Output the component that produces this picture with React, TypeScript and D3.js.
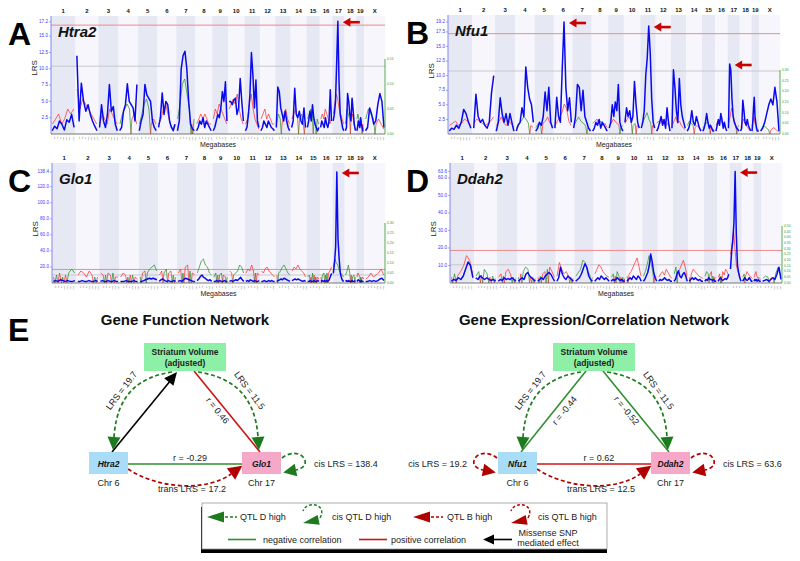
import React from "react";
import * as d3 from "d3";

const FONT = "'Liberation Sans', Arial, Helvetica, sans-serif";

// ---- genome layout -------------------------------------------------------
const chromosomes = ["1", "2", "3", "4", "5", "6", "7", "8", "9", "10", "11", "12", "13", "14", "15", "16", "17", "18", "19", "X"];
const chromLengths = [197.2, 181.7, 159.6, 155.6, 152.5, 149.5, 152.5, 131.7, 124.1, 130.0, 121.8, 121.3, 120.3, 125.2, 103.5, 98.3, 95.3, 90.8, 61.3, 166.7];

// ---- A: Htra2 ------------------------------------------------------------
const htra2Lrs = [
  [0.5, 1.2, 0.8, 2.0, 1.5, 0.6, 2.2, 1.8, 3.0, 1.0],
  [12.0, 2.0, 7.8, 5.0, 3.5, 4.5, 3.0, 2.0, 1.2, 0.5],
  [1.0, 4.5, 2.0, 1.0, 3.0, 7.6, 3.5, 4.2, 1.5, 0.5],
  [0.5, 1.0, 3.5, 4.5, 7.7, 5.0, 4.5, 4.0, 2.0, 7.6],
  [0.5, 2.0, 3.0, 7.6, 6.0, 5.5, 5.0, 2.0, 1.0, 0.5],
  [1.0, 2.5, 6.3, 3.0, 5.0, 4.5, 2.0, 1.0, 0.5, 1.5],
  [0.5, 2.0, 10.0, 12.0, 12.7, 10.0, 5.0, 1.5, 0.8, 0.5],
  [0.5, 1.0, 2.0, 1.5, 2.5, 1.0, 2.0, 1.5, 1.0, 0.5],
  [0.5, 1.0, 2.0, 3.0, 2.5, 4.0, 6.5, 5.0, 8.0, 2.0],
  [5.0, 5.0, 4.5, 5.2, 5.5, 3.0, 4.0, 8.5, 5.0, 2.0],
  [0.5, 1.0, 3.0, 6.0, 12.5, 9.0, 4.0, 8.3, 2.0, 1.0],
  [0.5, 1.0, 2.0, 1.5, 1.0, 2.0, 1.5, 1.0, 0.8, 0.5],
  [1.0, 7.2, 6.5, 4.0, 3.0, 2.0, 3.5, 2.0, 1.0, 0.5],
  [1.0, 2.0, 7.0, 3.0, 2.5, 3.5, 2.0, 1.5, 4.0, 1.0],
  [1.0, 2.0, 3.5, 2.0, 4.5, 2.5, 1.5, 1.0, 0.5, 1.0],
  [1.0, 2.0, 1.5, 1.0, 2.5, 1.5, 1.0, 2.0, 6.8, 2.0],
  [2.0, 3.0, 5.0, 11.0, 17.3, 8.0, 3.0, 2.0, 1.0, 0.5],
  [0.5, 1.0, 6.2, 5.0, 3.0, 2.0, 5.5, 3.5, 1.5, 0.5],
  [0.5, 1.0, 2.0, 1.5, 1.0, 2.5, 1.5, 1.0, 0.5, 0.5],
  [0.5, 1.0, 4.0, 3.0, 1.5, 2.0, 4.5, 6.2, 5.0, 1.0],
];
const htra2Additive = [
  [0.02, 0.03, 0.04, 0.02, 0.03, 0.05, 0.04, 0.05],
  [0.09, 0.05, 0.07, 0.06, 0.05, 0.04, 0.03, 0.02],
  [0.02, 0.04, 0.03, 0.02, 0.05, 0.04, 0.03, 0.02],
  [-0.02, -0.04, -0.05, -0.06, -0.05, 0.03, 0.04, 0.02],
  [-0.02, -0.04, -0.06, -0.07, -0.05, 0.02, 0.03, 0.02],
  [0.02, 0.03, 0.05, 0.06, 0.04, 0.02, 0.01, 0.02],
  [-0.03, -0.06, -0.1, -0.11, -0.08, -0.05, 0.02, -0.03],
  [0.02, 0.03, 0.04, 0.03, 0.04, 0.03, 0.02, 0.02],
  [0.03, 0.05, 0.04, 0.06, 0.05, 0.04, 0.03, 0.02],
  [0.05, 0.06, 0.07, 0.06, 0.08, 0.05, 0.03, 0.02],
  [0.02, 0.03, 0.06, 0.08, 0.05, 0.03, 0.02, 0.01],
  [0.03, 0.04, 0.05, 0.03, 0.04, 0.03, 0.02, 0.02],
  [-0.02, -0.04, -0.03, 0.02, 0.04, 0.05, 0.03, 0.02],
  [0.03, 0.04, 0.05, 0.03, -0.03, -0.04, -0.02, 0.02],
  [-0.03, -0.04, -0.05, -0.04, 0.03, 0.02, -0.03, -0.02],
  [0.03, 0.04, 0.03, 0.05, 0.04, 0.03, 0.02, 0.03],
  [0.04, 0.06, 0.08, 0.07, 0.05, 0.04, 0.03, 0.02],
  [-0.02, -0.05, -0.04, -0.03, 0.03, 0.04, 0.02, 0.01],
  [-0.03, -0.04, -0.03, -0.02, -0.03, -0.02, 0.02, 0.01],
  [-0.03, -0.05, -0.04, -0.03, 0.02, 0.03, 0.02, 0.01],
];
const htra2Ticks = [2.5, 5, 7.5, 10, 12.5, 15, 17.2];
const htra2AddTicks = [0, 0.05, 0.1, 0.15];
const htra2Thresholds = [16.7, 10.4];
const htra2Peaks = [[16, 4]];

// ---- B: Nfu1 -------------------------------------------------------------
const nfu1Lrs = [
  [0.5, 1.0, 0.8, 1.5, 1.0, 2.0, 4.2, 3.5, 2.0, 1.0],
  [1.0, 6.8, 3.0, 2.0, 2.5, 1.5, 1.0, 2.0, 7.0, 10.0],
  [0.5, 2.0, 6.2, 3.5, 2.0, 3.5, 1.5, 3.5, 2.0, 0.5],
  [0.5, 1.5, 2.0, 4.5, 3.0, 11.5, 8.0, 6.0, 5.0, 2.0],
  [0.5, 1.0, 2.0, 1.5, 3.0, 7.2, 4.0, 8.0, 2.0, 1.0],
  [1.0, 6.3, 3.0, 2.0, 11.0, 19.2, 8.0, 4.0, 6.2, 2.0],
  [1.0, 3.0, 8.5, 8.0, 4.0, 7.5, 3.0, 2.0, 1.0, 0.5],
  [0.5, 1.0, 2.0, 1.5, 2.5, 1.0, 2.0, 1.5, 1.0, 0.5],
  [1.0, 2.0, 5.0, 3.0, 5.5, 4.0, 8.5, 2.0, 1.0, 0.5],
  [2.0, 4.5, 3.0, 4.0, 2.0, 3.0, 9.0, 5.0, 2.0, 1.0],
  [1.0, 2.0, 4.0, 10.0, 13.0, 18.5, 14.0, 6.0, 2.0, 1.0],
  [0.5, 1.0, 2.0, 3.0, 1.5, 2.5, 1.0, 4.5, 2.0, 0.5],
  [1.0, 11.0, 8.0, 4.0, 2.0, 9.5, 5.0, 3.0, 2.0, 1.0],
  [0.5, 1.0, 2.0, 4.0, 2.0, 1.5, 3.0, 2.0, 1.0, 0.5],
  [0.5, 1.0, 2.0, 3.5, 2.0, 1.0, 1.5, 1.0, 0.5, 0.5],
  [0.5, 1.5, 2.5, 1.5, 3.5, 2.5, 1.0, 2.0, 1.0, 0.5],
  [1.0, 12.0, 11.0, 6.0, 3.0, 2.0, 1.5, 1.0, 0.8, 0.5],
  [0.5, 1.0, 5.8, 4.0, 2.0, 1.5, 2.5, 1.5, 1.0, 0.5],
  [0.5, 2.0, 4.5, 6.3, 3.0, 2.0, 1.0, 0.5, 0.5, 0.5],
  [0.5, 1.0, 2.0, 3.5, 5.0, 6.0, 5.0, 8.0, 5.5, 0.5],
];
const nfu1Additive = [
  [0.04, 0.05, 0.06, 0.04, 0.05, 0.07, 0.06, 0.04],
  [0.05, 0.07, 0.06, 0.05, 0.04, 0.05, 0.06, 0.08],
  [0.04, 0.06, 0.08, 0.05, 0.04, 0.06, 0.05, 0.03],
  [-0.03, -0.05, -0.06, -0.08, -0.07, -0.05, 0.04, 0.03],
  [-0.03, -0.05, -0.04, 0.05, 0.06, 0.08, 0.05, 0.04],
  [0.04, 0.06, 0.08, 0.1, 0.14, 0.12, 0.06, 0.04],
  [-0.04, -0.06, -0.08, -0.06, -0.05, -0.04, 0.03, 0.02],
  [0.05, 0.06, 0.07, 0.05, 0.06, 0.04, 0.05, 0.03],
  [0.04, 0.05, 0.07, 0.06, 0.05, 0.04, -0.03, -0.04],
  [0.05, 0.07, 0.08, 0.06, -0.04, -0.05, 0.04, 0.03],
  [-0.05, -0.06, -0.08, -0.1, -0.07, -0.05, 0.04, 0.03],
  [0.05, 0.06, 0.05, 0.07, 0.05, 0.04, 0.05, 0.03],
  [0.04, 0.06, 0.08, 0.05, 0.06, 0.04, 0.03, 0.02],
  [-0.04, -0.06, -0.05, -0.04, 0.03, 0.04, 0.03, 0.02],
  [-0.03, -0.04, -0.05, -0.06, -0.04, 0.03, 0.02, 0.02],
  [0.04, 0.06, 0.05, 0.07, 0.05, 0.04, 0.03, 0.02],
  [0.05, 0.08, 0.12, 0.09, 0.06, 0.04, -0.03, -0.04],
  [0.03, 0.05, 0.07, 0.05, 0.04, 0.03, 0.02, 0.02],
  [0.04, 0.06, 0.08, 0.05, 0.04, 0.03, 0.02, 0.02],
  [-0.02, -0.04, -0.03, -0.02, 0.02, 0.03, 0.02, 0.01],
];
const nfu1Ticks = [2.5, 5, 7.5, 10, 12.5, 15, 17.5, 19.2];
const nfu1AddTicks = [0, 0.05, 0.1, 0.15, 0.2, 0.25, 0.3];
const nfu1Thresholds = [17.2, 10.8];
const nfu1Peaks = [[5, 5], [10, 5], [16, 1]];

// ---- C: Glo1 -------------------------------------------------------------
const glo1Lrs = [
  [2, 3, 2, 4, 3, 2, 3, 2, 2, 3],
  [2, 2, 3, 2, 2, 3, 2, 2, 3, 2],
  [2, 3, 2, 2, 3, 2, 2, 3, 2, 2],
  [2, 2, 2, 3, 2, 2, 2, 3, 2, 2],
  [2, 2, 3, 4, 5, 6, 5, 6, 5, 4],
  [2, 4, 5, 3, 2, 3, 2, 2, 3, 2],
  [2, 3, 2, 4, 6, 5, 4, 3, 2, 2],
  [3, 5, 8, 10, 7, 6, 4, 3, 4, 2],
  [2, 2, 3, 2, 3, 2, 2, 3, 2, 2],
  [2, 3, 2, 3, 4, 3, 5, 7, 4, 2],
  [2, 3, 2, 4, 3, 2, 3, 2, 2, 3],
  [2, 2, 3, 2, 2, 3, 2, 3, 2, 2],
  [2, 3, 4, 5, 4, 6, 5, 4, 3, 2],
  [3, 4, 5, 4, 5, 4, 3, 2, 3, 2],
  [2, 2, 3, 2, 2, 3, 2, 2, 3, 2],
  [2, 3, 2, 3, 2, 3, 2, 4, 8, 12],
  [12, 25, 45, 138.4, 55, 30, 12, 6, 3, 2],
  [2, 3, 2, 3, 2, 2, 3, 2, 2, 3],
  [2, 3, 4, 3, 2, 2, 3, 2, 2, 2],
  [2, 2, 3, 2, 3, 2, 3, 5, 6, 3],
];
const glo1Additive = [
  [0.03, -0.04, 0.05, -0.03, 0.04, -0.05, -0.07, -0.05],
  [0.04, 0.06, 0.05, 0.03, 0.06, 0.04, -0.03, 0.03],
  [0.05, 0.04, -0.04, 0.05, 0.04, -0.05, 0.03, 0.03],
  [0.03, 0.05, 0.04, -0.03, 0.04, -0.04, 0.03, 0.02],
  [-0.03, 0.05, 0.06, -0.05, -0.07, -0.08, -0.09, -0.06],
  [0.04, 0.06, -0.05, -0.07, 0.05, 0.06, -0.04, 0.03],
  [0.05, 0.07, -0.05, 0.08, 0.09, -0.06, 0.05, 0.04],
  [-0.05, -0.08, -0.11, -0.12, -0.09, -0.08, -0.05, -0.04],
  [-0.03, -0.05, 0.04, -0.04, -0.05, 0.04, 0.03, -0.03],
  [0.06, 0.05, -0.04, -0.05, -0.06, -0.09, -0.08, -0.05],
  [0.05, 0.07, 0.06, 0.09, 0.06, -0.05, 0.05, 0.04],
  [0.06, 0.05, 0.07, 0.08, 0.06, 0.05, 0.04, 0.03],
  [0.04, -0.05, -0.06, -0.08, -0.09, -0.07, -0.05, -0.04],
  [0.06, 0.08, 0.07, 0.09, 0.07, 0.06, 0.05, 0.03],
  [-0.03, -0.04, 0.03, -0.05, 0.04, -0.03, 0.03, 0.02],
  [0.03, -0.04, -0.05, 0.04, -0.05, 0.05, 0.06, 0.08],
  [-0.08, -0.12, -0.1, -0.09, -0.06, -0.05, -0.04, -0.03],
  [-0.04, -0.06, -0.09, -0.05, 0.04, -0.03, -0.04, 0.03],
  [0.03, 0.05, 0.04, 0.03, -0.03, 0.02, 0.03, 0.02],
  [0.02, 0.03, 0.05, 0.03, 0.04, 0.05, 0.07, 0.04],
];
const glo1Ticks = [20, 40, 60, 80, 100, 120, 138.4];
const glo1AddTicks = [0, 0.05, 0.1, 0.15, 0.2, 0.25, 0.3];
const glo1Thresholds = [16.9, 10.0];
const glo1Peaks = [[16, 3]];

// ---- D: Ddah2 ------------------------------------------------------------
const ddah2Lrs = [
  [1, 2, 1.5, 3, 2, 4, 8, 12, 10, 3],
  [3, 2, 4, 3, 2, 3, 2, 1.5, 2, 1],
  [1, 2, 1.5, 3, 2, 2.5, 2, 3, 2, 1],
  [1, 2, 3, 2, 5, 6, 4, 3, 2, 1],
  [1, 2, 3, 2, 4, 5, 6, 5, 3, 1],
  [1, 3, 9, 5, 3, 2, 4, 3, 2, 1],
  [1, 2, 3, 5, 8, 11, 9, 4, 2, 1],
  [1, 2, 3, 2, 4, 3, 2, 3, 2, 1],
  [1, 2, 1.5, 2, 3, 2, 1.5, 2, 1, 1],
  [1, 2, 3, 2, 4, 3, 2, 4, 3, 1],
  [1, 2, 4, 6, 10, 16.5, 12, 6, 3, 1],
  [1, 2, 1.5, 2, 3, 2, 1.5, 2, 1, 1],
  [1, 2, 5, 7, 4, 3, 5, 6, 4, 1],
  [1, 2, 3, 2, 3, 2, 1.5, 2, 1, 1],
  [1, 2, 1.5, 3, 2, 2, 1.5, 2, 1, 1],
  [1, 2, 3, 2, 1.5, 2, 2.5, 2, 3, 5],
  [8, 18, 24, 35, 63.6, 28, 10, 6, 3, 1],
  [1, 2, 3, 2, 1.5, 2, 3, 2, 1, 1],
  [1, 2, 1.5, 2, 1, 1.5, 2, 1, 1, 1],
  [1, 1.5, 2, 1, 2, 3, 2, 5, 9, 2],
];
const ddah2Additive = [
  [0.05, -0.08, 0.06, 0.1, 0.15, 0.24, 0.2, 0.08],
  [-0.06, -0.1, 0.07, -0.12, -0.08, 0.05, -0.06, 0.04],
  [0.05, 0.08, -0.06, 0.1, 0.12, 0.07, -0.05, 0.04],
  [-0.05, 0.08, -0.1, -0.14, -0.12, 0.06, -0.05, 0.04],
  [0.05, -0.06, 0.08, 0.1, -0.12, 0.14, 0.1, 0.05],
  [0.06, 0.18, 0.12, 0.08, 0.1, 0.06, -0.05, 0.04],
  [-0.06, -0.09, -0.12, -0.2, -0.18, -0.1, -0.07, 0.05],
  [0.08, 0.12, 0.16, 0.14, 0.1, 0.08, 0.06, 0.05],
  [-0.05, -0.08, 0.06, -0.1, -0.06, 0.05, -0.05, 0.04],
  [-0.06, 0.08, 0.1, 0.14, 0.18, 0.22, 0.14, 0.06],
  [-0.06, -0.1, -0.16, -0.24, -0.18, -0.1, 0.06, 0.05],
  [0.05, 0.08, 0.1, 0.07, 0.12, 0.09, 0.06, 0.04],
  [-0.08, -0.14, 0.08, 0.12, 0.16, 0.2, 0.14, 0.06],
  [-0.05, 0.08, 0.12, 0.1, 0.08, 0.06, 0.05, 0.04],
  [-0.06, -0.1, -0.08, 0.07, 0.1, -0.06, 0.05, 0.04],
  [0.05, 0.08, -0.06, 0.1, 0.07, 0.12, 0.1, 0.06],
  [0.25, 0.35, 0.46, 0.3, 0.15, 0.1, 0.06, 0.05],
  [-0.05, -0.08, 0.06, 0.1, 0.08, 0.06, 0.05, 0.04],
  [0.05, 0.08, 0.1, 0.06, 0.04, 0.05, 0.04, 0.03],
  [-0.04, -0.06, -0.05, 0.04, 0.05, -0.08, -0.14, -0.06],
];
const ddah2Ticks = [10, 20, 30, 40, 50, 60, 63.6];
const ddah2AddTicks = [0, 0.05, 0.1, 0.15, 0.2, 0.25, 0.3, 0.35, 0.4, 0.45, 0.5];
const ddah2Thresholds = [18.6, 10.4];
const ddah2Peaks = [[16, 4]];

const panels = [
  { letter: "A", gene: "Htra2", lrs: htra2Lrs, additive: htra2Additive, ticks: htra2Ticks, addTicks: htra2AddTicks, thresholds: htra2Thresholds, peaks: htra2Peaks, left: 51, right: 385, top: 16, bottom: 134, lrsTop: 18.1, addTopPx: 59, lrsLabelY: 68, lx: 8 },
  { letter: "B", gene: "Nfu1", lrs: nfu1Lrs, additive: nfu1Additive, ticks: nfu1Ticks, addTicks: nfu1AddTicks, thresholds: nfu1Thresholds, peaks: nfu1Peaks, left: 448, right: 780, top: 15, bottom: 134, lrsTop: 20.4, addTopPx: 70, lrsLabelY: 71, lx: 406 },
  { letter: "C", gene: "Glo1", lrs: glo1Lrs, additive: glo1Additive, ticks: glo1Ticks, addTicks: glo1AddTicks, thresholds: glo1Thresholds, peaks: glo1Peaks, left: 52, right: 385, top: 163, bottom: 283, lrsTop: 149.6, addTopPx: 223, lrsLabelY: 229, lx: 8 },
  { letter: "D", gene: "Ddah2", lrs: ddah2Lrs, additive: ddah2Additive, ticks: ddah2Ticks, addTicks: ddah2AddTicks, thresholds: ddah2Thresholds, peaks: ddah2Peaks, left: 450, right: 782, top: 163, bottom: 283, lrsTop: 68.5, addTopPx: 226, lrsLabelY: 229, lx: 406 },
];

// ---- E: networks ---------------------------------------------------------
const networkTitles = ["Gene Function Network", "Gene Expression/Correlation Network"];
const networkGenes = [["Htra2", "Glo1"], ["Nfu1", "Ddah2"]];
const networkChrs = [["Chr 6", "Chr 17"], ["Chr 6", "Chr 17"]];
const striatumQtlLrs = [[19.7, 11.5], [19.7, 11.5]];
const volumeCorrelations = [[null, 0.46], [-0.44, -0.52]]; // null = missense SNP mediated effect
const geneCorrelations = [-0.29, 0.62];
const transLrs = [17.2, 12.5];
const cisLrs = [[null, 138.4], [19.2, 63.6]];
const cisHighAllele = [[null, "D"], ["B", "B"]];

const GREEN = "#1d7a1d";
const RED = "#b00000";
const corrColor = (r: number) => (r < 0 ? "#2f8f2f" : "#cc1414");
const alleleColor = (a: string) => (a === "D" ? GREEN : RED);

const gapMb = 4;
const chromStarts = chromLengths.map((_, i) => d3.sum(chromLengths.slice(0, i)) + i * gapMb);
const genomeTotal = chromStarts[19] + chromLengths[19];

function headPoints(tx: number, ty: number, ang: number, len: number, half: number) {
  const bx = tx - len * Math.cos(ang);
  const by = ty - len * Math.sin(ang);
  const px = -Math.sin(ang) * half;
  const py = Math.cos(ang) * half;
  return `${tx},${ty} ${bx + px},${by + py} ${bx - px},${by - py}`;
}

// arrow head continuing a path that ends at (ex,ey) coming from control (cx,cy)
function tipFrom(cx: number, cy: number, ex: number, ey: number, len: number, half: number) {
  const ang = Math.atan2(ey - cy, ex - cx);
  return headPoints(ex + len * Math.cos(ang), ey + len * Math.sin(ang), ang, len, half);
}

const QtlPanel = ({ p }: { p: any }) => {
  const x = d3.scaleLinear().domain([0, genomeTotal]).range([p.left, p.right]);
  const y = d3.scaleLinear().domain([0, p.lrsTop]).range([p.bottom, p.top]);
  const ya = d3.scaleLinear().domain([0, d3.max(p.addTicks) as number]).range([p.bottom, p.addTopPx]);
  const line = d3.line<[number, number]>().x((d) => d[0]).y((d) => d[1]);

  const pos = (c: number, i: number, n: number) => chromStarts[c] + ((i + 0.5) / n) * chromLengths[c];

  // additive effect segments coloured by sign
  const addSegs: { d: string; color: string }[] = [];
  p.additive.forEach((vals: number[], c: number) => {
    const n = vals.length;
    for (let i = 0; i < n - 1; i++) {
      const a = vals[i], b = vals[i + 1];
      const xa = pos(c, i, n), xb = pos(c, i + 1, n);
      if (a * b >= 0) {
        addSegs.push({ d: line([[x(xa), ya(Math.abs(a))], [x(xb), ya(Math.abs(b))]]) as string, color: a >= 0 && b >= 0 ? "#ff2a2a" : "#1f8f1f" });
      } else {
        const t = a / (a - b);
        const xm = xa + t * (xb - xa);
        addSegs.push({ d: line([[x(xa), ya(Math.abs(a))], [x(xm), ya(0)]]) as string, color: a > 0 ? "#ff2a2a" : "#1f8f1f" });
        addSegs.push({ d: line([[x(xm), ya(0)], [x(xb), ya(Math.abs(b))]]) as string, color: b > 0 ? "#ff2a2a" : "#1f8f1f" });
      }
    }
  });

  const mid = (p.left + p.right) / 2;

  return (
    <g>
      {chromosomes.map((c, i) => (
        <g key={c}>
          <rect
            x={x(chromStarts[i] - gapMb / 2)}
            y={p.top}
            width={x(chromLengths[i] + gapMb) - x(0)}
            height={p.bottom - p.top}
            fill={i % 2 === 0 ? "#e6e8f3" : "#f6f6fc"}
          />
          <text x={x(chromStarts[i] + chromLengths[i] / 2)} y={p.top - 3} fontSize={6} fontWeight="bold" textAnchor="middle" fill="#111">
            {c}
          </text>
          {d3.range(25, chromLengths[i], 25).map((m) => (
            <text key={m} transform={`translate(${x(chromStarts[i] + m)},${p.bottom + 2.5}) rotate(90)`} fontSize={2.4} fill="#666">
              {m}
            </text>
          ))}
        </g>
      ))}
      <line x1={p.left} x2={p.right} y1={y(p.thresholds[0])} y2={y(p.thresholds[0])} stroke="#f08a8a" strokeWidth={1} />
      <line x1={p.left} x2={p.right} y1={y(p.thresholds[1])} y2={y(p.thresholds[1])} stroke="#c8c8cc" strokeWidth={1} />
      {addSegs.map((s, i) => (
        <path key={i} d={s.d} stroke={s.color} strokeWidth={1} fill="none" opacity={0.7} />
      ))}
      {p.lrs.map((vals: number[], c: number) => (
        <path
          key={c}
          d={line(vals.map((v, i) => [x(pos(c, i, vals.length)), y(v)])) as string}
          stroke="#0a0aee"
          strokeWidth={1.5}
          fill="none"
          strokeLinejoin="round"
        />
      ))}
      <line x1={p.left} x2={p.left} y1={p.top} y2={p.bottom} stroke="#7070ee" strokeWidth={0.8} />
      <line x1={p.left} x2={p.right} y1={p.bottom} y2={p.bottom} stroke="#555" strokeWidth={0.8} />
      {p.ticks.map((t: number) => (
        <g key={t}>
          <line x1={p.left - 2} x2={p.left} y1={y(t)} y2={y(t)} stroke="#7070ee" strokeWidth={0.6} />
          <text x={p.left - 3} y={y(t)} fontSize={4.6} fill="#3a3aff" textAnchor="end" dominantBaseline="middle">
            {t.toFixed(1)}
          </text>
        </g>
      ))}
      <line x1={p.right} x2={p.right} y1={p.addTopPx} y2={p.bottom} stroke="#2a9a2a" strokeWidth={0.8} />
      {p.addTicks.map((t: number) => (
        <text key={t} x={p.right + 2} y={ya(t)} fontSize={3.4} fill="#2a9a2a" dominantBaseline="middle">
          {t.toFixed(2)}
        </text>
      ))}
      {p.peaks.map(([c, i]: number[], k: number) => {
        const n = p.lrs[c].length;
        const tx = x(pos(c, i, n)) + 5;
        const ty = y(p.lrs[c][i]) + 1;
        return (
          <g key={k}>
            <line x1={tx + 6} x2={tx + 17} y1={ty} y2={ty} stroke="#cc0000" strokeWidth={2.6} />
            <polygon points={headPoints(tx, ty, Math.PI, 7.5, 4.5)} fill="#cc0000" />
          </g>
        );
      })}
      <text transform={`translate(${p.left - 14},${p.lrsLabelY}) rotate(-90)`} fontSize={8} textAnchor="middle" fill="#222">
        LRS
      </text>
      <text x={mid} y={p.bottom + 13} fontSize={7} textAnchor="middle" fill="#222">
        Megabases
      </text>
      <text x={p.left + 7} y={p.top + 21} fontSize={15} fontWeight="bold" fontStyle="italic" fill="#111">
        {p.gene}
      </text>
      <text x={p.lx} y={p.top + 29} fontSize={32} fontWeight="bold" fill="#000">
        {p.letter}
      </text>
    </g>
  );
};

const Network = ({ k, dx }: { k: number; dx: number }) => {
  const [g1, g2] = networkGenes[k];
  const [c1, c2] = networkChrs[k];
  const [r1, r2] = volumeCorrelations[k];
  const [q1, q2] = striatumQtlLrs[k];
  const [cis1, cis2] = cisLrs[k];
  const [a1, a2] = cisHighAllele[k];
  const rg = geneCorrelations[k];
  const S = { x: dx + 144, y: 343, w: 82, h: 28 };
  const G1 = { x: dx + 89, y: 452, w: 39, h: 22 };
  const G2 = { x: dx + 242, y: 452, w: 39, h: 22 };
  const dash = "4,2.6";

  return (
    <g fontFamily={FONT}>
      <text x={dx + 185} y={325} fontSize={15} fontWeight="bold" textAnchor="middle" fill="#111">
        {networkTitles[k]}
      </text>

      {/* volume - gene1 */}
      {r1 === null ? (
        <g>
          <line x1={dx + 112} y1={452} x2={dx + 171} y2={380} stroke="#000" strokeWidth={1.6} />
          <polygon points={headPoints(dx + 177, 372, Math.atan2(372 - 452, 177 - 112), 13, 6)} fill="#000" />
        </g>
      ) : (
        <g>
          <line x1={dx + 177} y1={371} x2={dx + 112} y2={452} stroke={corrColor(r1)} strokeWidth={1.6} />
          <text transform={`translate(${dx + 156},${411}) rotate(-51)`} fontSize={9} textAnchor="middle" dominantBaseline="middle" fill="#222">
            r = {r1.toFixed(2)}
          </text>
        </g>
      )}
      {/* volume - gene2 */}
      <line x1={dx + 194} y1={371} x2={dx + 260} y2={452} stroke={corrColor(r2 as number)} strokeWidth={1.6} />
      <text transform={`translate(${dx + 217},${411}) rotate(51)`} fontSize={9} textAnchor="middle" dominantBaseline="middle" fill="#222">
        r = {(r2 as number).toFixed(2)}
      </text>

      {/* QTL arrows from striatum volume */}
      <path d={`M${dx + 172},372 C${dx + 140},377 ${dx + 117},393 ${dx + 114},437`} fill="none" stroke={GREEN} strokeWidth={1.7} strokeDasharray={dash} />
      <polygon points={tipFrom(dx + 117, 393, dx + 114, 437, 13, 6.5)} fill={GREEN} />
      <text transform={`translate(${dx + 122},${391}) rotate(-53)`} fontSize={9} textAnchor="middle" dominantBaseline="middle" fill="#222">
        LRS = {q1}
      </text>
      <path d={`M${dx + 198},372 C${dx + 230},377 ${dx + 255},393 ${dx + 258},437`} fill="none" stroke={GREEN} strokeWidth={1.7} strokeDasharray={dash} />
      <polygon points={tipFrom(dx + 255, 393, dx + 258, 437, 13, 6.5)} fill={GREEN} />
      <text transform={`translate(${dx + 249},${391}) rotate(53)`} fontSize={9} textAnchor="middle" dominantBaseline="middle" fill="#222">
        LRS = {q2}
      </text>

      {/* gene - gene correlation */}
      <line x1={G1.x + G1.w} y1={464} x2={G2.x} y2={464} stroke={corrColor(rg)} strokeWidth={1.6} />
      <text x={dx + 190} y={461} fontSize={9} textAnchor="middle" fill="#222">
        r = {rg.toFixed(2)}
      </text>

      {/* trans QTL */}
      <path d={`M${dx + 128},469 C${dx + 160},490 ${dx + 208},491 ${dx + 231},474`} fill="none" stroke={RED} strokeWidth={1.7} strokeDasharray={dash} />
      <polygon points={tipFrom(dx + 208, 491, dx + 231, 474, 14, 7)} fill={RED} />
      <text x={dx + 192} y={492} fontSize={9} textAnchor="middle" fill="#222">
        trans LRS = {transLrs[k]}
      </text>

      {/* cis loops */}
      {cis1 !== null && (
        <g>
          <path d={`M${dx + 88},458 C${dx + 70},444 ${dx + 54},466 ${dx + 74},470`} fill="none" stroke={alleleColor(a1 as string)} strokeWidth={1.7} strokeDasharray={dash} />
          <polygon points={tipFrom(dx + 54, 466, dx + 74, 470, 13, 6.5)} fill={alleleColor(a1 as string)} />
          <text x={dx + 58} y={467} fontSize={9} textAnchor="end" fill="#222">
            cis LRS = {cis1}
          </text>
        </g>
      )}
      {cis2 !== null && (
        <g>
          <path d={`M${dx + 282},458 C${dx + 300},444 ${dx + 316},466 ${dx + 296},470`} fill="none" stroke={alleleColor(a2 as string)} strokeWidth={1.7} strokeDasharray={dash} />
          <polygon points={tipFrom(dx + 316, 466, dx + 296, 470, 13, 6.5)} fill={alleleColor(a2 as string)} />
          <text x={dx + 314} y={467} fontSize={9} fill="#222">
            cis LRS = {cis2}
          </text>
        </g>
      )}

      {/* nodes */}
      <rect x={S.x} y={S.y} width={S.w} height={S.h} fill="#8ef0a6" />
      <text x={S.x + S.w / 2} y={S.y + 12} fontSize={8.5} fontWeight="bold" textAnchor="middle" fill="#222">
        Striatum Volume
      </text>
      <text x={S.x + S.w / 2} y={S.y + 23} fontSize={8.5} fontWeight="bold" textAnchor="middle" fill="#222">
        (adjusted)
      </text>
      <rect x={G1.x} y={G1.y} width={G1.w} height={G1.h} fill="#a9dcf7" />
      <text x={G1.x + G1.w / 2} y={G1.y + 14.5} fontSize={8.5} fontWeight="bold" fontStyle="italic" textAnchor="middle" fill="#111">
        {g1}
      </text>
      <rect x={G2.x} y={G2.y} width={G2.w} height={G2.h} fill="#f6a8c8" />
      <text x={G2.x + G2.w / 2} y={G2.y + 14.5} fontSize={8.5} fontWeight="bold" fontStyle="italic" textAnchor="middle" fill="#111">
        {g2}
      </text>
      <text x={G1.x + G1.w / 2} y={486} fontSize={9} textAnchor="middle" fill="#222">
        {c1}
      </text>
      <text x={G2.x + G2.w / 2} y={486} fontSize={9} textAnchor="middle" fill="#222">
        {c2}
      </text>
    </g>
  );
};

const Legend = () => {
  const dash = "3,2";
  return (
    <g fontFamily={FONT} fontSize={9} fill="#222">
      <rect x={201} y={507} width={406} height={46} fill="#000" />
      <rect x={202} y={503} width={405} height={46} fill="#fff" stroke="#999" strokeWidth={0.8} />
      {/* row 1 */}
      <polygon points={headPoints(207, 517, Math.PI, 17, 5.5)} fill={GREEN} />
      <line x1={225} x2={237} y1={517} y2={517} stroke={GREEN} strokeWidth={1.5} strokeDasharray={dash} />
      <text x={240} y={520}>QTL D high</text>
      <path d="M320,518 C328,504 307,500 303,511" fill="none" stroke={GREEN} strokeWidth={1.4} strokeDasharray={dash} />
      <polygon points={headPoints(303, 523, Math.PI - 0.2, 16, 5)} fill={GREEN} />
      <text x={332} y={520}>cis QTL D high</text>
      <polygon points={headPoints(413, 517, Math.PI, 17, 5.5)} fill={RED} />
      <line x1={431} x2={443} y1={517} y2={517} stroke={RED} strokeWidth={1.5} strokeDasharray={dash} />
      <text x={447} y={520}>QTL B high</text>
      <path d="M528,518 C536,504 515,500 511,511" fill="none" stroke={RED} strokeWidth={1.4} strokeDasharray={dash} />
      <polygon points={headPoints(511, 523, Math.PI - 0.2, 16, 5)} fill={RED} />
      <text x={538} y={520}>cis QTL B high</text>
      {/* row 2 */}
      <line x1={228} x2={256} y1={539.5} y2={539.5} stroke="#2f8f2f" strokeWidth={1.6} />
      <text x={263} y={543}>negative correlation</text>
      <line x1={359} x2={387} y1={539.5} y2={539.5} stroke="#cc1414" strokeWidth={1.6} />
      <text x={391} y={543}>positive correlation</text>
      <line x1={492} x2={512} y1={539.5} y2={539.5} stroke="#000" strokeWidth={1.6} />
      <polygon points={headPoints(483, 539.5, Math.PI, 11, 5)} fill="#000" />
      <text x={548} y={536} textAnchor="middle">Missense SNP</text>
      <text x={548} y={546} textAnchor="middle">mediated effect</text>
    </g>
  );
};

export default function App() {
  return (
    <svg width={800} height={561} viewBox="0 0 800 561" style={{ position: "absolute", left: 0, top: 0, background: "#fff" }} fontFamily={FONT}>
      <rect width={800} height={561} fill="#fff" />
      {panels.map((p) => (
        <QtlPanel key={p.letter} p={p} />
      ))}
      <text x={8} y={341} fontSize={32} fontWeight="bold" fill="#000">
        E
      </text>
      <Network k={0} dx={0} />
      <Network k={1} dx={409} />
      <Legend />
    </svg>
  );
}
